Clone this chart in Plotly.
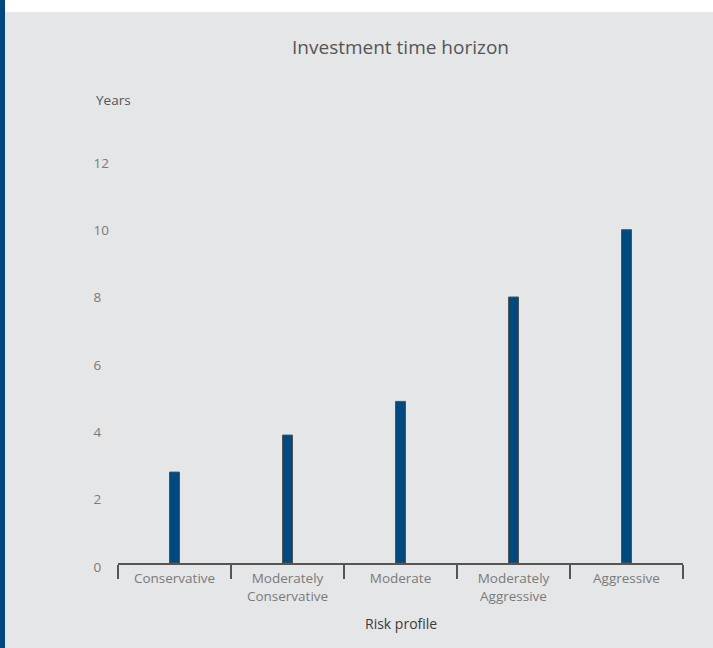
import plotly.graph_objects as go

categories = ["Conservative", "Moderately Conservative", "Moderate",
              "Moderately Aggressive", "Aggressive"]
tick_labels = ["Conservative", "Moderately<br>Conservative", "Moderate",
               "Moderately<br>Aggressive", "Aggressive"]
years = [2.7, 3.8, 4.8, 7.9, 9.9]
y_ticks = [0, 2, 4, 6, 8, 10, 12]
y_tick_text = ["0\u2007", "2\u2007", "4\u2007", "6\u2007", "8\u2007", "10", "12"]

FONT = "Open Sans"
BG = "#e5e6e8"
BAR = "#004a80"

W, H = 713, 648
ML, MR, MT, MB = 118, 30, 159, 85
PW, PH = W - ML - MR, H - MT - MB


def px_x(p):
    return (p - ML) / PW


def px_y(p):
    return (H - MB - p) / PH


fig = go.Figure(go.Bar(
    x=categories, y=years, width=0.088,
    marker=dict(color=BAR, line=dict(color="#505050", width=1)),
    hoverinfo="skip",
))

fig.update_layout(
    width=W, height=H,
    margin=dict(l=ML, r=MR, t=MT, b=MB, pad=0),
    paper_bgcolor=BG, plot_bgcolor=BG,
    showlegend=False,
    font=dict(family=FONT, color="#777777"),
    title=dict(text="Investment time horizon", x=0.5, xref="paper", xanchor="center",
               y=1 - 47 / H, yref="container", yanchor="middle",
               font=dict(family=FONT, size=19, color="#555555")),
    shapes=[
        dict(type="rect", xref="paper", yref="paper", layer="below",
             x0=px_x(0), x1=px_x(W), y0=px_y(12), y1=px_y(0),
             fillcolor="#ffffff", line=dict(width=0)),
        dict(type="rect", xref="paper", yref="paper", layer="below",
             x0=px_x(0), x1=px_x(5), y0=px_y(H), y1=px_y(0),
             fillcolor="#00467f", line=dict(width=0)),
    ],
    annotations=[
        dict(text="Years", xref="paper", yref="paper", x=px_x(94), y=px_y(100),
             xanchor="left", yanchor="middle", showarrow=False,
             font=dict(family=FONT, size=13.5, color="#555555")),
        dict(text="Risk profile", xref="paper", yref="paper", x=0.5, y=px_y(623),
             xanchor="center", yanchor="middle", showarrow=False,
             font=dict(family=FONT, size=14, color="#3a3a3a")),
    ],
)

fig.update_xaxes(
    type="category", categoryorder="array", categoryarray=categories,
    tickvals=categories, ticktext=tick_labels,
    range=[-0.5, 4.5],
    showline=True, linecolor="#555555", linewidth=1.5,
    ticks="outside", tickson="boundaries", ticklen=14, tickwidth=1.5, tickcolor="#555555",
    ticklabelstandoff=2,
    tickfont=dict(family=FONT, size=13.5, color="#7a7a7a"),
    showgrid=False, zeroline=False, fixedrange=True,
)

fig.update_yaxes(
    range=[0, 12], tickvals=y_ticks, ticktext=y_tick_text,
    showline=False, showgrid=False, zeroline=False, ticks="",
    ticklabelshift=4, ticklabelstandoff=8,
    tickfont=dict(family=FONT, size=13.5, color="#7a7a7a"),
    fixedrange=True,
)

fig.write_html("out.html", config={"displayModeBar": False})
